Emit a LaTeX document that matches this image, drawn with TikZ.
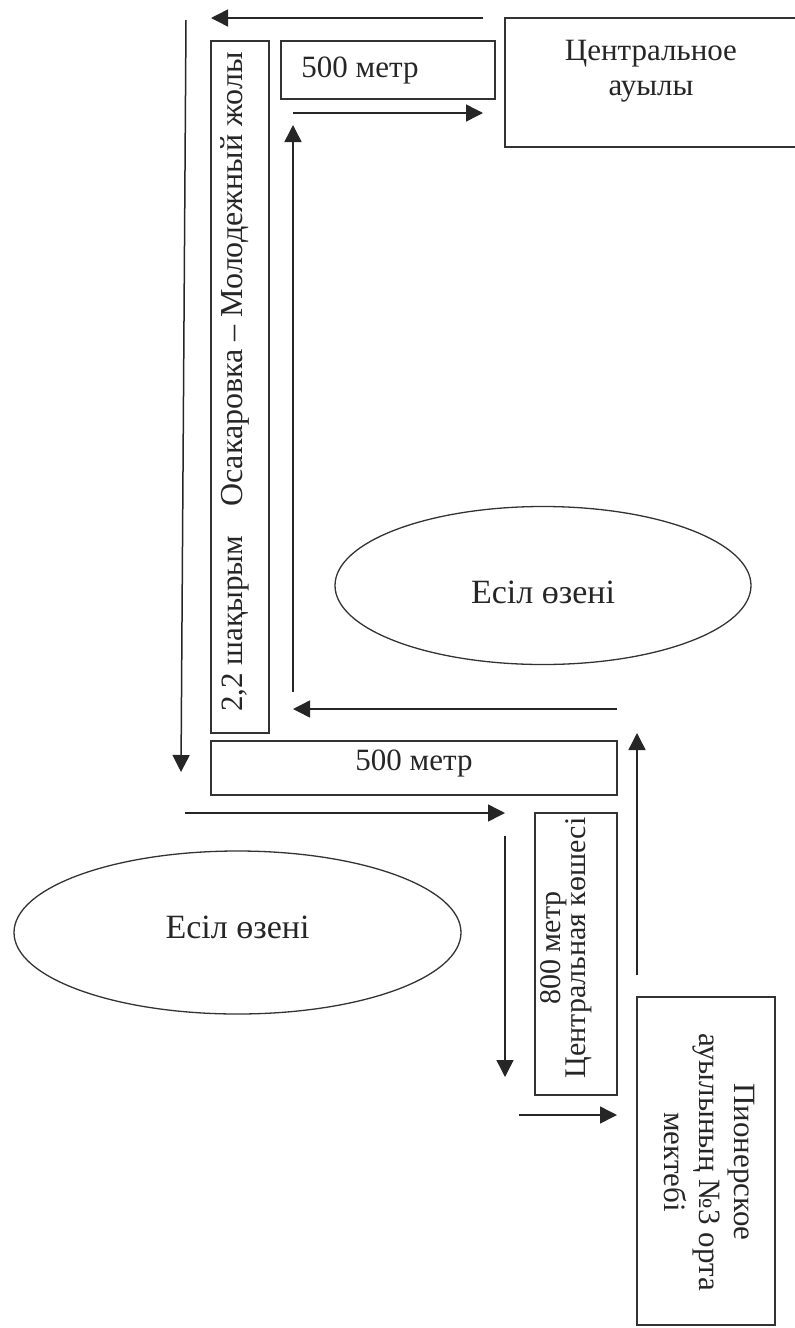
\documentclass[tikz,border=0pt]{standalone}
\usepackage{fontspec}
\setmainfont{Liberation Serif}
\usetikzlibrary{arrows.meta,shapes.geometric}

\begin{document}
\begin{tikzpicture}[
  x=1pt,y=-1pt,
  line width=1.3pt,
  every node/.style={font=\fontsize{31}{35}\selectfont,align=center,text=black!85},
  box/.style={draw=black!80,rectangle,inner sep=0pt,outer sep=0pt},
  river/.style={draw=black!80,ellipse,inner sep=0pt,outer sep=0pt,font=\fontsize{34}{35}\selectfont},
  flow/.style={-{Triangle[length=17pt,width=17pt]},black!85,line width=1.5pt}]

  \path[use as bounding box,clip] (0,0) rectangle (795,1328);

  % Place the boxes and the rivers at their coordinates
  \node[box,minimum width=300,minimum height=129] (central) at (655,82.5)
    {\raisebox{5pt}[0pt][0pt]{\begin{tabular}{@{}c@{}}Центральное\\ауылы\end{tabular}}\hspace*{8pt}};
  \node[box,minimum width=214,minimum height=58] (topstreet) at (388,70)
    {\hspace*{-56pt}500 метр};
  \node[box,rotate=90,minimum width=692,minimum height=58,font=\fontsize{32}{35}\selectfont] (road) at (240,387)
    {\hspace*{10pt}\raisebox{-2.5pt}[0pt][0pt]{{\fontsize{31}{35}\selectfont 2,2 шақырым}\hspace{29pt}Осакаровка – Молодежный жолы}};
  \node[box,minimum width=406,minimum height=54] (midstreet) at (414,768)
    {\raisebox{-2pt}[0pt][0pt]{500 метр}};
  \node[box,rotate=90,minimum width=282,minimum height=82,font=\fontsize{30}{35}\selectfont] (lowstreet) at (576,954)
    {\hspace*{12pt}\raisebox{3.5pt}[0pt][0pt]{\begin{tabular}{@{}c@{}}800 метр\\[-10pt]Центральная көшесі\end{tabular}}};
  \node[box,rotate=-90,minimum width=328,minimum height=138] (school) at (706,1161)
    {\hspace*{2pt}\begin{tabular}{@{}c@{}}Пионерское\\ауылының №3 орта\\мектебі\end{tabular}};
  \node[river,minimum width=416,minimum height=158] (riverup) at (543,585.5)
    {\raisebox{-17.5pt}[0pt][0pt]{Есіл өзені}};
  \node[river,minimum width=447,minimum height=163] (riverdown) at (237.5,932.5)
    {\raisebox{-5.5pt}[0pt][0pt]{Есіл өзені}};

  % Free ends of the arrows
  \coordinate (a1) at (483,18);   \coordinate (a2) at (211,18);
  \coordinate (b1) at (186,20);   \coordinate (b2) at (181,772);
  \coordinate (c1) at (185,813);  \coordinate (c2) at (505,813);
  \coordinate (d1) at (505,836);  \coordinate (d2) at (505,1077);
  \coordinate (e1) at (519,1115); \coordinate (e2) at (617,1115);
  \coordinate (f1) at (637,975);  \coordinate (f2) at (637,733);
  \coordinate (g1) at (617,709);  \coordinate (g2) at (293,709);
  \coordinate (h1) at (293,692);  \coordinate (h2) at (293,125);
  \coordinate (i1) at (293,113);  \coordinate (i2) at (483,113);

  % Draw the arrows
  \draw[flow] (a1) -- (a2);
  \draw[flow] (b1) -- (b2);
  \draw[flow] (c1) -- (c2);
  \draw[flow] (d1) -- (d2);
  \draw[flow] (e1) -- (e2);
  \draw[flow] (f1) -- (f2);
  \draw[flow] (g1) -- (g2);
  \draw[flow] (h1) -- (h2);
  \draw[flow] (i1) -- (i2);

\end{tikzpicture}
\end{document}
